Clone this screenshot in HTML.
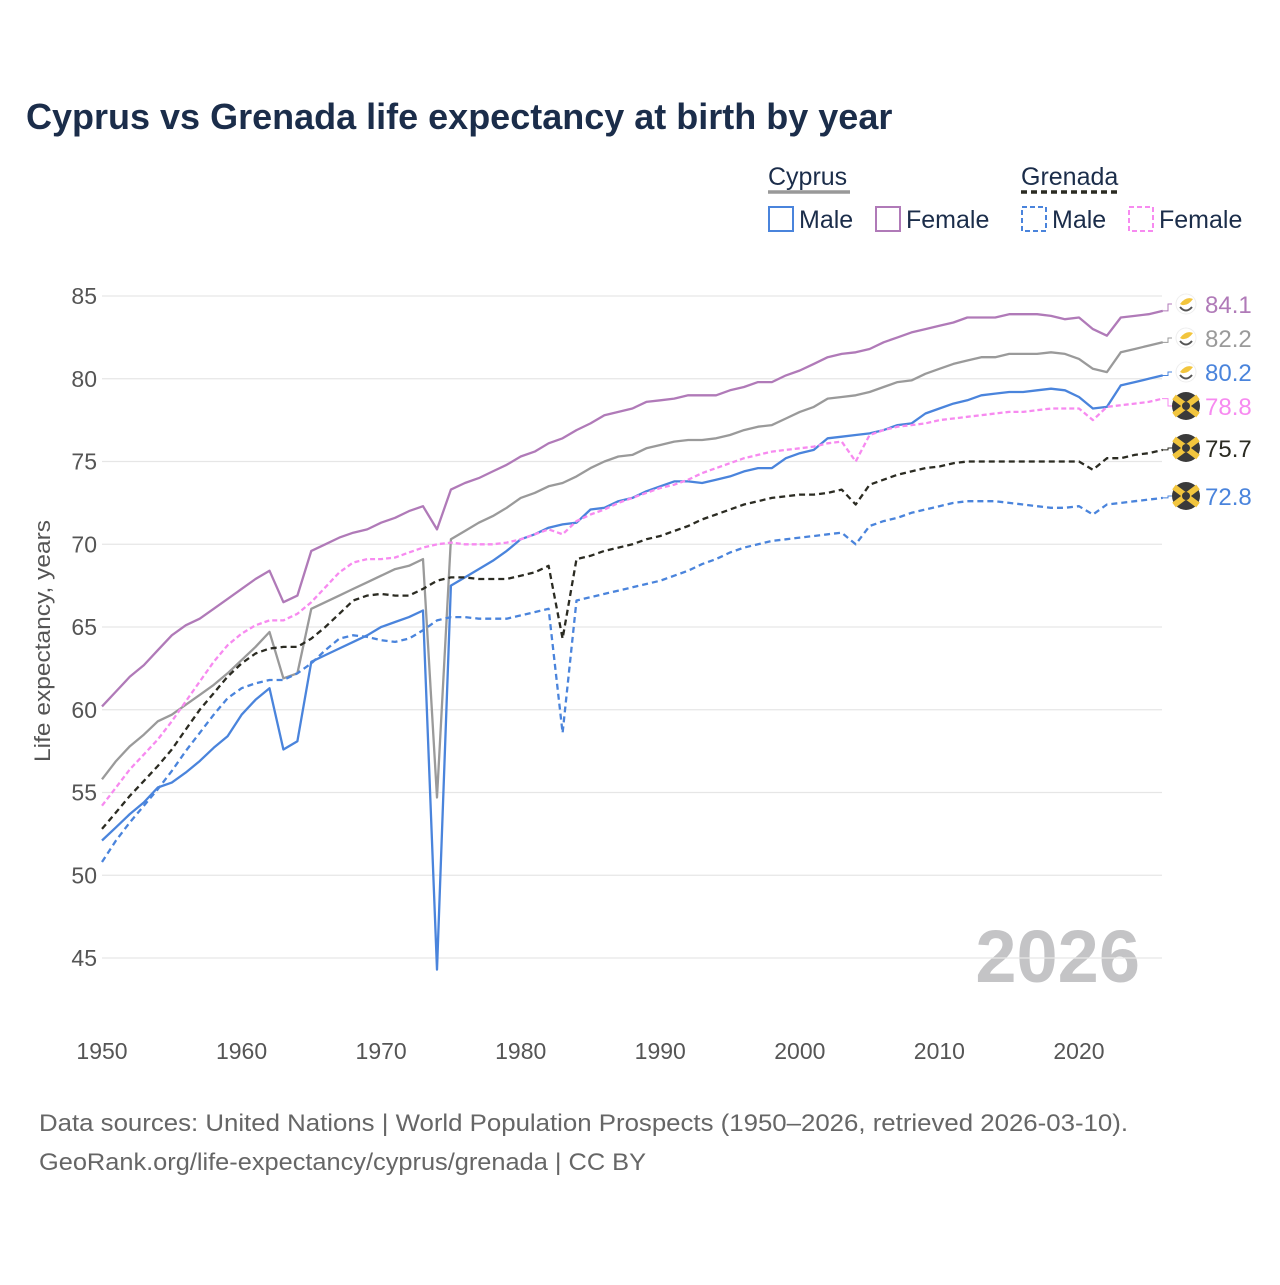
<!DOCTYPE html>
<html><head><meta charset="utf-8"><style>
body{margin:0;background:#fff;font-family:"Liberation Sans",sans-serif}
svg text{font-family:"Liberation Sans",sans-serif}
</style></head><body>
<svg id="chart" width="1280" height="1280" viewBox="0 0 1280 1280" xmlns="http://www.w3.org/2000/svg">
<text x="26" y="129" font-size="36" font-weight="bold" fill="#1b2d4a">Cyprus vs Grenada life expectancy at birth by year</text>
<g font-size="25" fill="#1b2d4a">
<text x="768" y="185">Cyprus</text>
<line x1="768" y1="192" x2="850" y2="192" stroke="#999" stroke-width="3.5"/>
<text x="1021" y="185">Grenada</text>
<line x1="1021" y1="192" x2="1118" y2="192" stroke="#2b2b22" stroke-width="3.5" stroke-dasharray="6,4"/>
<rect x="769" y="207" width="24" height="24" fill="none" stroke="#4a84dc" stroke-width="2"/>
<text x="799" y="228">Male</text>
<rect x="876" y="207" width="24" height="24" fill="none" stroke="#b07ab8" stroke-width="2"/>
<text x="906" y="228">Female</text>
<rect x="1022" y="207" width="24" height="24" fill="none" stroke="#4a84dc" stroke-width="2" stroke-dasharray="5,3"/>
<text x="1052" y="228">Male</text>
<rect x="1129" y="207" width="24" height="24" fill="none" stroke="#f78af0" stroke-width="2" stroke-dasharray="5,3"/>
<text x="1159" y="228">Female</text>
</g>
<text transform="translate(50,641) rotate(-90)" text-anchor="middle" font-size="22" fill="#555" textLength="242" lengthAdjust="spacingAndGlyphs">Life expectancy, years</text>
<text x="1140" y="982" text-anchor="end" font-size="74" font-weight="bold" fill="#c4c4c6">2026</text>
<g id="grid"></g><g id="series"></g><g id="ends"></g>
<text x="39" y="1131" font-size="24" fill="#666" textLength="1089" lengthAdjust="spacingAndGlyphs">Data sources: United Nations | World Population Prospects (1950–2026, retrieved 2026-03-10).</text>
<text x="39" y="1170" font-size="24" fill="#666" textLength="607" lengthAdjust="spacingAndGlyphs">GeoRank.org/life-expectancy/cyprus/grenada | CC BY</text>
</svg>
<script>
const years = []; for (let y = 1950; y <= 2026; y++) years.push(y);
const yTicks = [45,50,55,60,65,70,75,80,85];
const xTicks = [1950,1960,1970,1980,1990,2000,2010,2020];
const cyFemale = [60.2,61.1,62.0,62.7,63.6,64.5,65.1,65.5,66.1,66.7, 67.3,67.9,68.4,66.5,66.9,69.6,70.0,70.4,70.7,70.9, 71.3,71.6,72.0,72.3,70.9,73.3,73.7,74.0,74.4,74.8, 75.3,75.6,76.1,76.4,76.9,77.3,77.8,78.0,78.2,78.6, 78.7,78.8,79.0,79.0,79.0,79.3,79.5,79.8,79.8,80.2, 80.5,80.9,81.3,81.5,81.6,81.8,82.2,82.5,82.8,83.0, 83.2,83.4,83.7,83.7,83.7,83.9,83.9,83.9,83.8,83.6, 83.7,83.0,82.6,83.7,83.8,83.9,84.1];
const cyBoth = [55.8,56.9,57.8,58.5,59.3,59.7,60.3,60.9,61.5,62.2, 63.0,63.8,64.7,61.9,62.2,66.1,66.5,66.9,67.3,67.7, 68.1,68.5,68.7,69.1,54.7,70.3,70.8,71.3,71.7,72.2, 72.8,73.1,73.5,73.7,74.1,74.6,75.0,75.3,75.4,75.8, 76.0,76.2,76.3,76.3,76.4,76.6,76.9,77.1,77.2,77.6, 78.0,78.3,78.8,78.9,79.0,79.2,79.5,79.8,79.9,80.3, 80.6,80.9,81.1,81.3,81.3,81.5,81.5,81.5,81.6,81.5, 81.2,80.6,80.4,81.6,81.8,82.0,82.2];
const cyMale = [52.1,52.9,53.7,54.4,55.3,55.6,56.2,56.9,57.7,58.4, 59.7,60.6,61.3,57.6,58.1,62.9,63.3,63.7,64.1,64.5, 65.0,65.3,65.6,66.0,44.3,67.5,68.0,68.5,69.0,69.6, 70.3,70.6,71.0,71.2,71.3,72.1,72.2,72.6,72.8,73.2, 73.5,73.8,73.8,73.7,73.9,74.1,74.4,74.6,74.6,75.2, 75.5,75.7,76.4,76.5,76.6,76.7,76.9,77.2,77.3,77.9, 78.2,78.5,78.7,79.0,79.1,79.2,79.2,79.3,79.4,79.3, 78.9,78.2,78.3,79.6,79.8,80.0,80.2];
const grFemale = [54.2,55.3,56.4,57.3,58.2,59.3,60.5,61.7,62.9,63.9, 64.6,65.1,65.4,65.4,65.8,66.5,67.4,68.3,68.9,69.1, 69.1,69.2,69.5,69.8,70.0,70.1,70.0,70.0,70.0,70.1, 70.3,70.6,70.9,70.6,71.4,71.8,72.1,72.5,72.8,73.1, 73.4,73.6,73.9,74.3,74.6,74.9,75.2,75.4,75.6,75.7, 75.8,75.9,76.1,76.2,75.0,76.6,76.9,77.1,77.2,77.3, 77.5,77.6,77.7,77.8,77.9,78.0,78.0,78.1,78.2,78.2, 78.2,77.5,78.3,78.4,78.5,78.6,78.8];
const grBoth = [52.8,53.8,54.8,55.7,56.6,57.6,58.8,60.0,61.0,62.0, 62.8,63.4,63.7,63.8,63.8,64.3,65.0,65.8,66.6,66.9, 67.0,66.9,66.9,67.3,67.8,68.0,68.0,67.9,67.9,67.9, 68.1,68.3,68.7,64.3,69.1,69.3,69.6,69.8,70.0,70.3, 70.5,70.8,71.1,71.5,71.8,72.1,72.4,72.6,72.8,72.9, 73.0,73.0,73.1,73.3,72.4,73.6,73.9,74.2,74.4,74.6, 74.7,74.9,75.0,75.0,75.0,75.0,75.0,75.0,75.0,75.0, 75.0,74.5,75.2,75.2,75.4,75.5,75.7];
const grMale = [50.8,52.1,53.2,54.2,55.2,56.3,57.5,58.6,59.7,60.7, 61.3,61.6,61.8,61.8,62.2,62.8,63.6,64.3,64.5,64.4, 64.2,64.1,64.3,64.8,65.4,65.6,65.6,65.5,65.5,65.5, 65.7,65.9,66.1,58.6,66.6,66.8,67.0,67.2,67.4,67.6, 67.8,68.1,68.4,68.8,69.1,69.5,69.8,70.0,70.2,70.3, 70.4,70.5,70.6,70.7,70.0,71.1,71.4,71.6,71.9,72.1, 72.3,72.5,72.6,72.6,72.6,72.5,72.4,72.3,72.2,72.2, 72.3,71.8,72.4,72.5,72.6,72.7,72.8];

const NS = "http://www.w3.org/2000/svg";
const X0 = 102, X1 = 1162.7, Y85 = 296, Y45 = 958;
function xs(y){ return X0 + (y - 1950) * (X1 - X0) / 76; }
function ys(v){ return Y45 - (v - 45) * (Y45 - Y85) / 40; }
function mk(tag, attrs, parent){ const e = document.createElementNS(NS, tag); for (const k in attrs) e.setAttribute(k, attrs[k]); parent.appendChild(e); return e; }
const grid = document.getElementById('grid');
yTicks.forEach(t => {
  const l = mk('line', {x1: X0, x2: 1162, y1: ys(t), y2: ys(t), stroke: '#e6e6e6', 'stroke-width': 1.2}, grid);
  
  
  const tx = mk('text', {x: 97, y: ys(t) + 8, 'text-anchor': 'end', 'font-size': 23, fill: '#555'}, grid);
  tx.textContent = t;
  
  
});
xTicks.forEach(t => {
  const tx = mk('text', {x: xs(t), y: 1059, 'text-anchor': 'middle', 'font-size': 23, fill: '#555'}, grid);
  tx.textContent = t;
  
  
});
const series = [
  {d: cyFemale, c: '#b07ab8', dash: '', n: 'cyprus-female-line', lab: '84.1', flag: 'cy', ly: 304},
  {d: cyBoth, c: '#9a9a9a', dash: '', n: 'cyprus-total-line', lab: '82.2', flag: 'cy', ly: 338},
  {d: cyMale, c: '#4a84dc', dash: '', n: 'cyprus-male-line', lab: '80.2', flag: 'cy', ly: 372},
  {d: grFemale, c: '#f78af0', dash: '5,3', n: 'grenada-female-line', lab: '78.8', flag: 'gd', ly: 406},
  {d: grBoth, c: '#2b2b22', dash: '6,4', n: 'grenada-total-line', lab: '75.7', flag: 'gd', ly: 448},
  {d: grMale, c: '#4a84dc', dash: '6,4', n: 'grenada-male-line', lab: '72.8', flag: 'gd', ly: 496}
];
const sg = document.getElementById('series'), eg = document.getElementById('ends');
series.forEach(s => {
  const pts = s.d.map((v, i) => xs(years[i]).toFixed(1) + ',' + ys(v).toFixed(1)).join(' ');
  const p = mk('polyline', {points: pts, fill: 'none', stroke: s.c, 'stroke-width': 2.3, 'stroke-linejoin': 'round'}, sg);
  if (s.dash) p.setAttribute('stroke-dasharray', s.dash);
  
  
  const lastY = ys(s.d[s.d.length - 1]);
  mk('polyline', {points: `1162,${lastY} 1168,${lastY} 1168,${s.ly} 1172,${s.ly}`, fill: 'none', stroke: s.c, 'stroke-width': 1}, eg);
  if (s.flag === 'gd') {
    mk('circle', {cx: 1186, cy: s.ly, r: 14, fill: '#3a3a3a'}, eg);
    mk('path', {d: `M1174 ${s.ly-9} L1198 ${s.ly+9} M1198 ${s.ly-9} L1174 ${s.ly+9}`, stroke: '#f2c53d', 'stroke-width': 6}, eg);
    mk('circle', {cx: 1186, cy: s.ly, r: 4, fill: '#3a3a3a'}, eg);
  } else {
    mk('circle', {cx: 1186, cy: s.ly, r: 10, fill: '#fff', stroke: '#eee'}, eg);
    mk('path', {d: `M1180 ${s.ly} Q1186 ${s.ly-8} 1193 ${s.ly-5} Q1188 ${s.ly+2} 1182 ${s.ly+1}Z`, fill: '#f2c53d'}, eg);
    mk('path', {d: `M1180 ${s.ly+3} Q1186 ${s.ly+10} 1192 ${s.ly+3}`, fill: 'none', stroke: '#555', 'stroke-width': 2}, eg);
  }
  const t = mk('text', {x: 1205, y: s.ly + 9, 'font-size': 24, fill: s.c}, eg);
  t.textContent = s.lab;
  
  
});
</script>
</body></html>
